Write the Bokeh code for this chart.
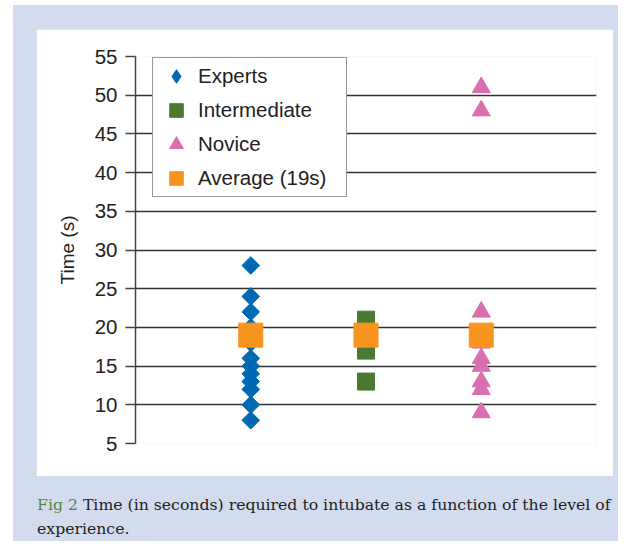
import math
from bokeh.plotting import figure
from bokeh.models import Range1d, Legend, LegendItem, FixedTicker, Div
from bokeh.layouts import column
from bokeh.embed import file_html
from bokeh.resources import INLINE

# ---- data ----
levels = ["Experts", "Intermediate", "Novice"]
experts = [28, 24, 22, 20, 19, 18, 16, 15, 14, 13, 12, 10, 8]
intermediate = [21, 19, 17, 13]
novice = [51, 48, 22, 18, 16, 15, 13, 12, 9]
average_value = 19
average_label = "Average (19s)"
y_ticks = [5, 10, 15, 20, 25, 30, 35, 40, 45, 50, 55]

pos = {name: i + 1 for i, name in enumerate(levels)}

BLUE = "#0069B4"
GREEN = "#4A7A31"
PINK = "#DA6FAF"
ORANGE = "#F7941E"
BG = "#D3DCEE"
TXT = "#222222"

p = figure(
    frame_width=461, frame_height=384,
    min_border_left=99, min_border_right=17, min_border_top=27, min_border_bottom=36,
    x_range=Range1d(0, len(levels) + 1), y_range=Range1d(y_ticks[0], y_ticks[-1]),
    output_backend="svg", toolbar_location=None,
    background_fill_color="white", border_fill_color="white",
    margin=(24, 0, 0, 23),
)
p.outline_line_color = None
p.xaxis.visible = False
p.xgrid.visible = False

p.yaxis.ticker = FixedTicker(ticks=y_ticks)
p.yaxis.axis_label = "Time (s)"
p.yaxis.axis_label_text_font = "Liberation Sans"
p.yaxis.axis_label_text_font_size = "19px"
p.yaxis.axis_label_text_font_style = "normal"
p.yaxis.axis_label_text_color = TXT
p.yaxis.axis_label_standoff = 14
p.yaxis.major_label_text_font = "Liberation Sans"
p.yaxis.major_label_text_font_size = "20.5px"
p.yaxis.major_label_text_color = TXT
p.yaxis.major_label_standoff = 8
p.yaxis.major_tick_out = 10
p.yaxis.major_tick_in = 0
p.yaxis.minor_tick_line_color = None
p.yaxis.axis_line_color = "#444444"
p.yaxis.axis_line_width = 1.5
p.yaxis.major_tick_line_color = "#444444"
p.yaxis.major_tick_line_width = 1.5

p.ygrid.ticker = FixedTicker(ticks=y_ticks)
p.ygrid.grid_line_color = "#333333"
p.ygrid.grid_line_width = 1.5

ex_x = [pos["Experts"]] * len(experts)
# narrow diamonds (legend key) sit fully inside the rotated squares drawn on top
r_exp_key = p.scatter(ex_x, experts, marker="diamond", size=12,
                      fill_color=BLUE, line_color=BLUE)
r_exp = p.scatter(ex_x, experts, marker="square",
                  angle=math.pi / 4, size=12.5, fill_color=BLUE, line_color=BLUE)
r_int = p.scatter([pos["Intermediate"]] * len(intermediate), intermediate, marker="square",
                  size=17, fill_color=GREEN, line_color=GREEN)
r_nov = p.scatter([pos["Novice"]] * len(novice), novice, marker="triangle",
                  size=18, fill_color=PINK, line_color=PINK)
r_avg = p.scatter([pos[n] for n in levels], [average_value] * len(levels), marker="square",
                  size=24, fill_color=ORANGE, line_color=ORANGE)

legend = Legend(
    items=[
        LegendItem(label=levels[0], renderers=[r_exp_key]),
        LegendItem(label=levels[1], renderers=[r_int]),
        LegendItem(label=levels[2], renderers=[r_nov]),
        LegendItem(label=average_label, renderers=[r_avg]),
    ],
    location=(17, 246),
    padding=1, spacing=0, margin=0,
    glyph_width=44, glyph_height=34, label_standoff=0, label_width=147,
    label_text_font="Liberation Sans", label_text_font_size="20.5px",
    label_text_color=TXT,
    border_line_color="#333333", border_line_width=1.5,
    background_fill_color="white", background_fill_alpha=1.0,
)
p.add_layout(legend)

caption = Div(
    text='<span style="color:#4E8A3A">Fig 2</span><span> Time (in seconds) required to '
         'intubate as a function of the level of</span><br><span>experience.</span>',
    width=590,
    margin=(14, 0, 0, 24),
    styles={"font-family": "DejaVu Serif", "font-size": "15.7px", "line-height": "24px",
            "color": TXT, "white-space": "nowrap"},
)

layout = column(p, caption, width=605, height=536, margin=(5, 0, 0, 13),
                styles={"background-color": BG})

open("out.html", "w").write(file_html(layout, INLINE))
